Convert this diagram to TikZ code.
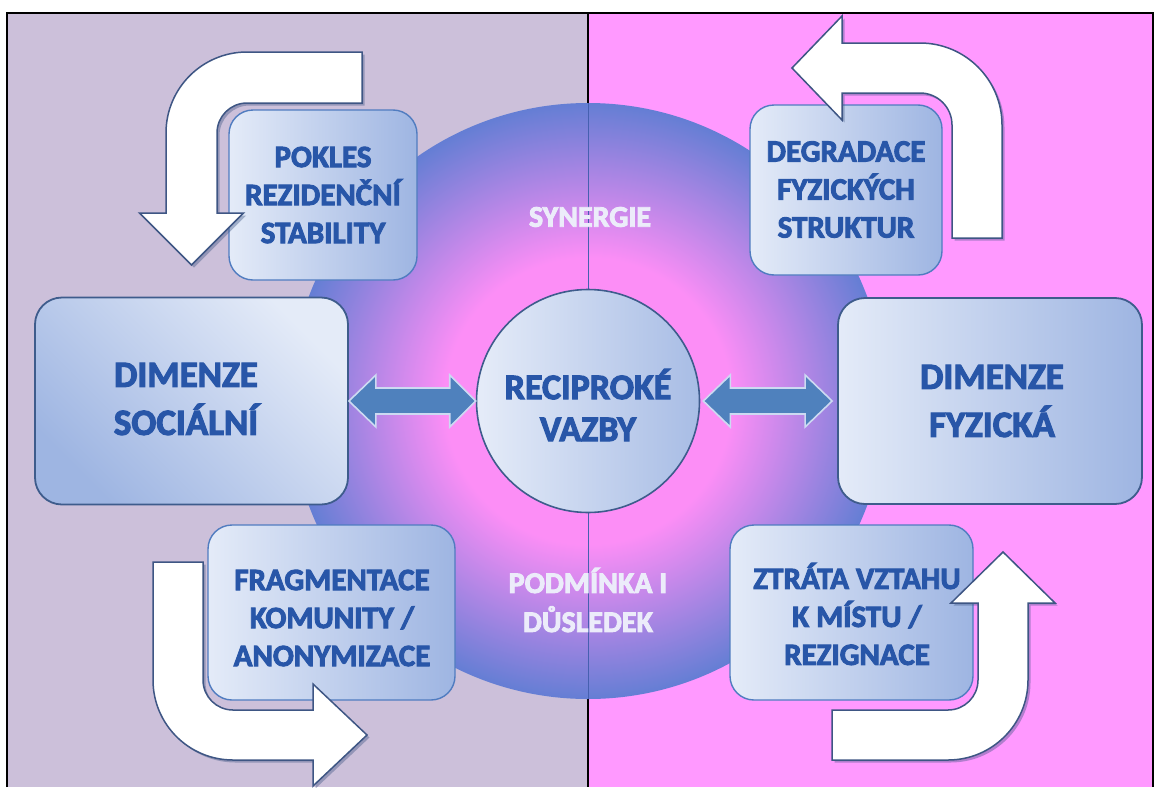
\documentclass[tikz,border=0pt]{standalone}
\usepackage{fontspec}
\setmainfont{Carlito}[BoldFeatures={FakeBold=3}]
\usetikzlibrary{shadows,calc}
\definecolor{lavbg}{RGB}{204,192,218}
\definecolor{pinkbg}{RGB}{255,153,255}
\definecolor{circpink}{RGB}{252,142,246}
\definecolor{circblue}{RGB}{100,126,212}
\definecolor{boxlight}{RGB}{228,235,248}
\definecolor{boxblue}{RGB}{158,181,226}
\definecolor{txtblue}{RGB}{40,86,168}
\definecolor{dblfill}{RGB}{79,129,189}
\definecolor{dbledge}{RGB}{205,218,242}
\definecolor{arrowedge}{RGB}{62,86,132}
\definecolor{bigedge}{RGB}{62,92,140}
\definecolor{smalledge}{RGB}{80,124,192}
\definecolor{divblue}{RGB}{70,96,176}
\definecolor{glowc}{RGB}{236,236,250}
\pgfdeclareradialshading{bigglow}{\pgfpoint{0bp}{0bp}}{color(0bp)=(circpink); color(12bp)=(circpink); color(25bp)=(circblue); color(50bp)=(circblue)}
\begin{document}
\begin{tikzpicture}[x=1pt,y=-1pt,
  bigbox/.style={draw=bigedge, line width=1.8pt, rounded corners=27pt, inner sep=0pt},
  smallbox/.style={draw=smalledge, line width=1.4pt, rounded corners=24pt, inner sep=0pt, left color=boxlight, right color=boxblue},
  bigtxt/.style={font=\fontsize{37pt}{48pt}\selectfont\bfseries, text=txtblue, align=center, inner sep=0pt},
  rectxt/.style={font=\fontsize{36pt}{42pt}\selectfont\bfseries, text=txtblue, align=center, inner sep=0pt},
  smalltxt/.style={font=\fontsize{31pt}{38pt}\selectfont\bfseries, text=txtblue, align=center, inner sep=0pt},
  glowtxt/.style={font=\fontsize{30pt}{39pt}\selectfont\bfseries, text=glowc, align=center, inner sep=0pt},
  whitearrow/.style={fill=white, draw=arrowedge, line width=1.5pt, line join=miter,
    drop shadow={shadow xshift=2.5pt, shadow yshift=-2.5pt, opacity=0.4, fill=arrowedge}},
  dblarrow/.style={fill=dblfill, draw=dbledge, line width=1.6pt, line join=miter}
]
\useasboundingbox (0,0) rectangle (1155,787);
\fill[white] (0,0) rectangle (1155,787);
% backgrounds
\fill[lavbg] (7,13) rectangle (588,787);
\fill[pinkbg] (588,13) rectangle (1153,787);
\draw[line width=2.4pt] (7,787) -- (7,13) -- (1153,13) -- (1153,787);
\draw[line width=2pt] (588,13) -- (588,787);
% big shaded circle
\node[circle, minimum size=596pt, inner sep=0pt, shade, shading=bigglow] (glow) at (588,401) {};
\draw[divblue, line width=1pt] (glow.north) -- (glow.south);
% big boxes and center circle
\node[bigbox, minimum width=313pt, minimum height=207pt,
      top color=boxlight, bottom color=boxblue, shading angle=-45] (soc) at (191.5,401) {};
\node[bigbox, minimum width=304pt, minimum height=206pt,
      left color=boxlight, right color=boxblue] (phy) at (990,401) {};
\node[circle, draw=bigedge, line width=1.6pt, minimum size=223pt, inner sep=0pt,
      left color=boxlight!95!white, right color=boxblue!90!white] (rec) at (588,401) {};
% double arrows
\draw[dblarrow] (soc.east) -- ++(27,-26) -- ++(0,13) -- ($(rec.west)+(-26,-13)$) -- ++(0,-13)
  -- (rec.west) -- ++(-26,26) -- ++(0,-13) -- ($(soc.east)+(27,13)$) -- ++(0,13) -- cycle;
\coordinate (ra) at ($(rec.east)+(3,0)$);
\coordinate (rb) at ($(phy.west)+(-5,0)$);
\draw[dblarrow] (ra) -- ++(27,-26) -- ++(0,13) -- ($(rb)+(-27,-13)$) -- ++(0,-13)
  -- (rb) -- ++(-27,26) -- ++(0,-13) -- ($(ra)+(27,13)$) -- ++(0,13) -- cycle;
% small boxes
\node[smallbox, minimum width=188pt, minimum height=170pt] (pokles) at (323,195) {};
\node[smallbox, minimum width=192pt, minimum height=170pt] (degr) at (846,190) {};
\node[smallbox, minimum width=247pt, minimum height=175pt] (frag) at (331.5,612.5) {};
\node[smallbox, minimum width=243pt, minimum height=175pt] (ztrata) at (851.5,612.5) {};
% curved white arrows
\draw[whitearrow] (362,52) -- (247,52) arc[start angle=270,end angle=180,radius=81]
  -- (166,213) -- (139.5,213) -- (191.5,265) -- (243.5,213) -- (217,213) -- (217,133)
  arc[start angle=180,end angle=270,radius=30] -- (362,103) -- cycle;
\draw[whitearrow] (1002,238) -- (1002,125) arc[start angle=0,end angle=-90,radius=82]
  -- (842,43) -- (842,16) -- (792,68) -- (842,120) -- (842,93) -- (920,93)
  arc[start angle=-90,end angle=0,radius=32] -- (952,238) -- cycle;
\draw[whitearrow] (153,562) -- (153,680) arc[start angle=180,end angle=90,radius=80]
  -- (313,760) -- (313,786) -- (367,735) -- (313,684) -- (313,710) -- (233,710)
  arc[start angle=90,end angle=180,radius=30] -- (203,562) -- cycle;
\draw[whitearrow] (832,760) -- (948,760) arc[start angle=90,end angle=0,radius=80]
  -- (1028,603) -- (1055,603) -- (1003,552) -- (951,603) -- (978,603) -- (978,680)
  arc[start angle=0,end angle=90,radius=30] -- (832,710) -- cycle;
% texts
\node[bigtxt] (soc-t) at (186,399) {DIMENZE\\SOCIÁLNÍ};
\node[bigtxt] (phy-t) at (992,401) {DIMENZE\\FYZICKÁ};
\node[rectxt] (rec-t) at (588,405) {RECIPROKÉ\\VAZBY};
\node[smalltxt] (pokles-t) at (323,195) {POKLES\\REZIDENČNÍ\\STABILITY};
\node[smalltxt] (degr-t) at (846,189.5) {DEGRADACE\\FYZICKÝCH\\STRUKTUR};
\node[smalltxt] (frag-t) at (332,618) {FRAGMENTACE\\KOMUNITY /\\ANONYMIZACE};
\node[smalltxt] (ztrata-t) at (857,614) {ZTRÁTA VZTAHU\\K MÍSTU /\\REZIGNACE};
\node[glowtxt] (syn) at (590,217) {SYNERGIE};
\node[glowtxt] (pod) at (588,600) {PODMÍNKA I\\DŮSLEDEK};
\end{tikzpicture}
\end{document}
